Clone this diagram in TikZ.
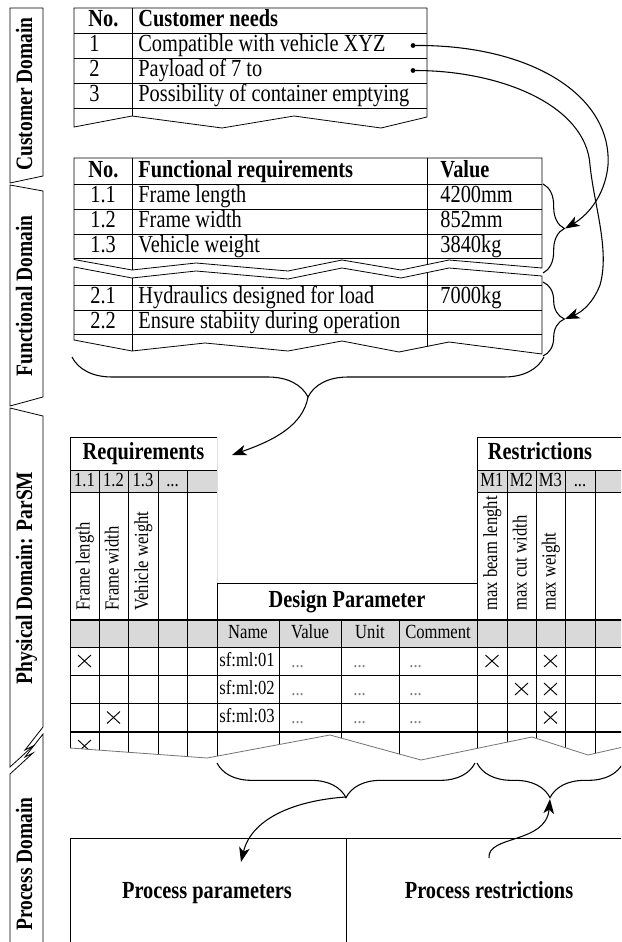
\documentclass[tikz,border=0pt]{standalone}
\usepackage{fontspec}
\setmainfont{Liberation Serif}[FakeStretch=0.83]
\usetikzlibrary{arrows.meta, decorations.pathreplacing}

\newcommand{\xmk}[2]{\draw[line width=0.7pt] (#1-6.5,#2-6) -- (#1+6.5,#2+6) (#1-6.5,#2+6) -- (#1+6.5,#2-6);}
\newcommand{\ddd}{...}

\begin{document}
\begin{tikzpicture}[x=0.75pt, y=-0.75pt, line width=0.6pt,
    >={Stealth[length=11pt, width=8pt, inset=3pt]},
    txt/.style={inner sep=0pt, text height=13pt, text depth=4pt, font=\fontsize{18.4}{20}\selectfont},
    hd/.style={txt, font=\fontsize{18.4}{20}\selectfont\bfseries},
    dom/.style={inner sep=0pt, rotate=90, text height=12.5pt, text depth=4pt, font=\fontsize{17.6}{19}\selectfont\bfseries},
    vlab/.style={inner sep=0pt, rotate=90, anchor=west, text height=10.5pt, text depth=3pt, font=\fontsize{15}{17}\selectfont},
    sm/.style={inner sep=0pt, text height=10.5pt, text depth=3pt, font=\fontsize{15}{17}\selectfont},
    gdots/.style={sm, text=black!50},
    thk/.style={line width=1.4pt},
    brc/.style={decorate, decoration={brace, amplitude=#1}, line width=0.8pt},
    link/.style={->, line width=0.8pt},
  ]
\clip (0,0) rectangle (621,942);

% domain strip
\draw (10,8) -- (43,8) -- (43,176) -- (10,183) -- cycle;
\draw (10,185) -- (43,191) -- (43,397) -- (10,406) -- cycle;
\draw (10,408) -- (43,416) -- (43,727) -- (25,750) -- (33,746) -- (10,767) -- cycle;
\draw (43,734) -- (25,757) -- (33,753) -- (10,774) -- (10,950) -- (43,950) -- cycle;
\node[dom] (cdom) at (26.5,94) {Customer Domain};
\node[dom] (fdom) at (26.5,296) {Functional Domain};
\node[dom] (pdom) at (26.5,578) {Physical Domain: ParSM};
\node[dom] (prdom) at (26.5,864) {Process Domain};

% customer needs
\begin{scope}
  \clip (74,8) -- (427,8) -- (427,117) -- (381,128) -- (294,116) -- (222,128) -- (132,116) -- (74,127) -- cycle;
  \foreach \y in {33,58,83,108} \draw (74,\y) -- (427,\y);
  \draw (132,8) -- (132,130);
\end{scope}
\draw (74,127) -- (74,8) -- (427,8) -- (427,117) -- (381,128) -- (294,116) -- (222,128) -- (132,116) -- cycle;
\node[hd, anchor=west] (cno) at (88,20.5) {No.};
\node[hd, anchor=west] (cneed) at (138,20.5) {Customer needs};
\foreach \y/\t [count=\k] in {45.5/Compatible with vehicle XYZ, 70.5/Payload of 7 to, 95.5/Possibility of container emptying} {
  \node[txt, anchor=west] (cn\k) at (89,\y) {\k};
  \node[txt, anchor=west] (ct\k) at (138,\y) {\t};
}
\coordinate (d1) at (413,45.5);
\coordinate (d2) at (413,70.5);
\fill (d1) circle (2.4) (d2) circle (2.4);

% functional requirements
\begin{scope}
  \clip (74,158) -- (542,158) -- (542,268) -- (449,260) -- (401,270) -- (342,260) -- (288,271) -- (196,263) -- (132,270) -- (74,259.5) -- cycle;
  \foreach \y in {184,209,234,258} \draw (74,\y) -- (542,\y);
  \foreach \x in {132,427} \draw (\x,158) -- (\x,280);
\end{scope}
\draw (74,259.5) -- (74,158) -- (542,158) -- (542,268) -- (449,260) -- (401,270) -- (342,260) -- (288,271) -- (196,263) -- (132,270) -- cycle;
\begin{scope}
  \clip (74,267) -- (132,278) -- (196,271) -- (288,279) -- (342,268) -- (401,278) -- (449,268) -- (542,276) -- (542,354) -- (449,342) -- (399,352) -- (342,341) -- (288,351) -- (205,343) -- (132,351) -- (74,340) -- cycle;
  \foreach \y in {285,310,334} \draw (74,\y) -- (542,\y);
  \foreach \x in {132,427} \draw (\x,262) -- (\x,360);
\end{scope}
\draw (74,267) -- (132,278) -- (196,271) -- (288,279) -- (342,268) -- (401,278) -- (449,268) -- (542,276) -- (542,354) -- (449,342) -- (399,352) -- (342,341) -- (288,351) -- (205,343) -- (132,351) -- (74,340) -- cycle;
\node[hd, anchor=west] (fno) at (88,171) {No.};
\node[hd, anchor=west] (freq) at (138,171) {Functional requirements};
\node[hd, anchor=west] (fval) at (440,171) {Value};
\foreach \y/\n/\t/\v [count=\k] in {196.5/1.1/Frame length/4200mm, 221.5/1.2/Frame width/852mm, 246/1.3/Vehicle weight/3840kg, 297.5/2.1/Hydraulics designed for load/7000kg, 322/2.2/Ensure stabiity during operation/{}} {
  \node[txt, anchor=west] (fn\k) at (90,\y) {\n};
  \node[txt, anchor=west] (ft\k) at (138,\y) {\t};
  \node[txt, anchor=west] (fv\k) at (440,\y) {\v};
}

% braces and links of the upper part
\draw[brc=16pt] (543,184) -- (543,273);
\draw[brc=16pt] (543,282) -- (543,356);
\draw[brc=30pt] (544,357) -- (72,357);
\coordinate (cb1) at (565,228.5);
\coordinate (cb2) at (565,319);
\coordinate (cbf) at (308,397);
\coordinate (rqin) at (232,455);
\draw[link] (d1) .. controls (530,44) and (612,95) .. (608,165) .. controls (605,198) and (585,217) .. (cb1);
\draw[link] (d2) .. controls (500,70) and (586,105) .. (590,165) .. controls (594,205) and (610,250) .. (600,285) .. controls (593,303) and (582,312) .. (cb2);
\draw[link] (cbf) .. controls (303,425) and (275,440) .. (rqin);

% ParSM grid
\fill[gray!30] (70,470) rectangle (217,492);
\fill[gray!30] (477,470) rectangle (640,492);
\fill[gray!30] (70,620) rectangle (640,647);
\begin{scope}
  \clip (70,437) -- (217,437) -- (217,583) -- (477,583) -- (477,437) -- (640,437) -- (640,747) -- (623,747) -- (588,755) -- (532,737) -- (421,760) -- (330,735) -- (207,758) -- (70,748) -- cycle;
  \draw (70,437) -- (217,437) (477,437) -- (640,437);
  \foreach \y in {470,492} \draw (70,\y) -- (217,\y) (477,\y) -- (640,\y);
  \draw (217,583) -- (477,583);
  \foreach \y in {647,675,703} \draw (70,\y) -- (640,\y);
  \draw[thk] (70,620) -- (640,620) (70,732) -- (640,732);
  \foreach \x in {70,217,477} \draw (\x,437) -- (\x,770);
  \foreach \x in {99,128,158,187,507,536,565,595} \draw (\x,470) -- (\x,770);
  \foreach \x in {279,341,399} \draw (\x,620) -- (\x,770);
  \xmk{84.5}{746}
\end{scope}
\draw[black!55] (70,748) -- (207,758) -- (330,735) -- (421,760) -- (532,737) -- (588,755) -- (623,747);

\node[hd] (req) at (143.5,453.5) {Requirements};
\node[hd] (res) at (540,453.5) {Restrictions};
\node[hd] (dp) at (347,601.5) {Design Parameter};
\foreach \x/\t [count=\k] in {84.5/1.1, 113.5/1.2, 143/1.3, 172.5/\ddd} \node[sm] (rq\k) at (\x,481) {\t};
\foreach \x/\t [count=\k] in {492/M1, 521.5/M2, 550.5/M3, 580/\ddd} \node[sm] (rs\k) at (\x,481) {\t};
\foreach \x/\t [count=\k] in {84.5/Frame length, 113.5/Frame width, 143/Vehicle weight, 492/max beam lenght, 521.5/max cut width, 550.5/max weight} \node[vlab] (vl\k) at (\x,611) {\t};
\foreach \x/\t [count=\k] in {248/Name, 310/Value, 370/Unit, 438/Comment} \node[sm] (dh\k) at (\x,633.5) {\t};
\foreach \y [count=\k] in {661,689,717.5} {
  \node[sm, anchor=west] (nm\k) at (219,\y) {sf:ml:0\k};
  \foreach \x [count=\j] in {291,353,409} \node[gdots, anchor=west] (dv\k\j) at (\x,\y+1) {\ddd};
}
\xmk{84.5}{661}
\xmk{492}{661}
\xmk{550.5}{661}
\xmk{521.5}{689}
\xmk{550.5}{689}
\xmk{113.5}{717.5}
\xmk{550.5}{717.5}

% process domain
\draw (70,950) -- (70,838) -- (640,838);
\draw (346,838) -- (346,950);
\node[hd] (ppar) at (207,892) {Process parameters};
\node[hd] (pres) at (489,892) {Process restrictions};
\draw[brc=26pt] (475,763) -- (217,763);
\draw[brc=26pt] (623,763) -- (477,763);
\coordinate (cba) at (346,797);
\coordinate (cbb) at (550,799);
\coordinate (ppin) at (241,862);
\coordinate (prout) at (489,858);
\draw[link] (cba) .. controls (300,800) and (252,816) .. (ppin);
\draw[link] (prout) .. controls (487,835) and (546,844) .. (cbb);
\end{tikzpicture}
\end{document}
